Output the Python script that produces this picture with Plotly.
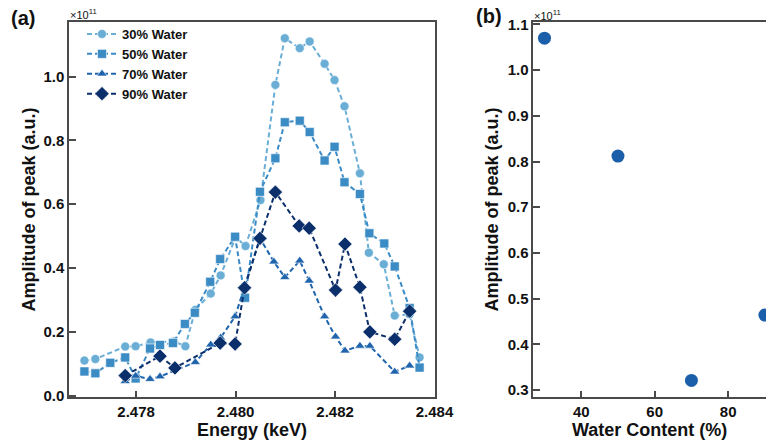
import plotly.graph_objects as go

# ---------------- data (amplitudes in units of 1e11) ----------------
series_names = ["30% Water", "50% Water", "70% Water", "90% Water"]

energy_30 = [2.47696, 2.47718, 2.47778, 2.47799, 2.47829, 2.47876, 2.47899, 2.47919,
             2.47950, 2.47970, 2.48000, 2.48020, 2.48050, 2.48080, 2.48099, 2.48129,
             2.48149, 2.48179, 2.48199, 2.48219, 2.48250, 2.48268, 2.48298, 2.48320,
             2.48350, 2.48370]
amp_30 = [0.110, 0.115, 0.154, 0.155, 0.167, 0.170, 0.155, 0.269,
          0.320, 0.377, 0.497, 0.469, 0.613, 0.974, 1.120, 1.089,
          1.110, 1.040, 0.989, 0.907, 0.697, 0.448, 0.412, 0.251,
          0.255, 0.120]

energy_50 = [2.47696, 2.47718, 2.47748, 2.47778, 2.47799, 2.47828, 2.47848, 2.47874,
             2.47898, 2.47918, 2.47949, 2.47969, 2.47999, 2.48019, 2.48049, 2.48080,
             2.48099, 2.48129, 2.48149, 2.48179, 2.48199, 2.48219, 2.48250, 2.48269,
             2.48299, 2.48320, 2.48350, 2.48370]
amp_50 = [0.076, 0.070, 0.103, 0.120, 0.054, 0.148, 0.159, 0.165,
          0.225, 0.260, 0.357, 0.428, 0.498, 0.307, 0.639, 0.744,
          0.857, 0.862, 0.826, 0.737, 0.780, 0.669, 0.632, 0.509,
          0.477, 0.405, 0.275, 0.088]

energy_70 = [2.47778, 2.47799, 2.47828, 2.47848, 2.47919, 2.47950, 2.47970, 2.47999,
             2.48049, 2.48077, 2.48099, 2.48129, 2.48148, 2.48179, 2.48201, 2.48220,
             2.48250, 2.48270, 2.48320, 2.48350]
amp_70 = [0.045, 0.062, 0.052, 0.060, 0.105, 0.160, 0.182, 0.248,
          0.493, 0.420, 0.371, 0.423, 0.360, 0.248, 0.185, 0.141,
          0.156, 0.156, 0.075, 0.094]

energy_90 = [2.47778, 2.47848, 2.47878, 2.47969, 2.47999, 2.48018, 2.48049, 2.48080,
             2.48128, 2.48148, 2.48201, 2.48220, 2.48250, 2.48270, 2.48320, 2.48350]
amp_90 = [0.063, 0.124, 0.087, 0.165, 0.162, 0.338, 0.493, 0.638,
          0.532, 0.525, 0.331, 0.475, 0.340, 0.200, 0.177, 0.265]

water_content = [30, 50, 70, 90]
peak_amp = [1.070, 0.812, 0.321, 0.464]

left_yticks = [0.0, 0.2, 0.4, 0.6, 0.8, 1.0]
left_xticks = [2.478, 2.480, 2.482, 2.484]
right_yticks = [0.3, 0.4, 0.5, 0.6, 0.7, 0.8, 0.9, 1.0, 1.1]
right_xticks = [40, 60, 80]

# ---------------- styling ----------------
FONT = "Arial, Liberation Sans, sans-serif"
colors = ["#6aaed6", "#3b8bc5", "#1f64ad", "#0b2f6a"]
symbols = ["circle", "square", "triangle-up", "diamond"]
sizes = [9, 9, 9, 11]
AX = "#4a4a4a"

W, H = 766, 446
def px_x(p): return p / W
def px_y(p): return 1 - p / H

fig = go.Figure()
data_sets = [(energy_30, amp_30), (energy_50, amp_50), (energy_70, amp_70), (energy_90, amp_90)]
for (ex, ay), name, c, s, sz in zip(data_sets, series_names, colors, symbols, sizes):
    fig.add_trace(go.Scatter(
        x=ex, y=ay, name=f"<b>{name}</b>", mode="lines+markers",
        line=dict(color=c, width=2, dash="5px,3px"),
        marker=dict(color=c, symbol=s, size=sz, line=dict(color="white", width=0.6)),
        xaxis="x", yaxis="y"))

fig.add_trace(go.Scatter(
    x=water_content, y=peak_amp, mode="markers", showlegend=False,
    marker=dict(color="#1b5ea9", size=13),
    xaxis="x2", yaxis="y2", cliponaxis=True))

axis_common = dict(showline=True, linecolor=AX, linewidth=1.5, ticks="inside",
                   ticklen=7, tickwidth=1.5, tickcolor=AX, showgrid=False, zeroline=False,
                   automargin=False,
                   tickfont=dict(family=FONT, size=15, color="#111"),
                   title_font=dict(family=FONT, size=18, color="#111"))

y_dom = [px_y(397.3), px_y(21.7)]
fig.update_layout(
    width=W, height=H, margin=dict(l=0, r=0, t=0, b=0, autoexpand=False),
    paper_bgcolor="white", plot_bgcolor="white",
    font=dict(family=FONT),
    xaxis=dict(domain=[px_x(69), px_x(435)], range=[2.47665, 2.48401],
               tickvals=left_xticks, ticktext=[f"<b>{v:.3f}</b>" for v in left_xticks],
               mirror=True, title=dict(text="<b>Energy (keV)</b>", standoff=3), **axis_common),
    yaxis=dict(domain=y_dom, range=[-0.005, 1.172],
               tickvals=left_yticks, ticktext=[f"<b>{v:.1f}</b>" for v in left_yticks],
               mirror=True, title=dict(text="<b>Amplitude of peak (a.u.)</b>", standoff=3), **axis_common),
    xaxis2=dict(domain=[px_x(533.3), 1.0], range=[26.95, 90.3], anchor="y2",
                tickvals=right_xticks, ticktext=[f"<b>{v}</b>" for v in right_xticks],
                mirror=True, title=dict(text="<b>Water Content (%)</b>", standoff=3), **axis_common),
    yaxis2=dict(domain=y_dom, range=[0.284, 1.106], anchor="x2",
                tickvals=right_yticks, ticktext=[f"<b>{v:.1f}</b>" for v in right_yticks],
                title=dict(text="<b>Amplitude of peak (a.u.)</b>", standoff=4), **axis_common),
    legend=dict(x=px_x(82), y=px_y(19), xanchor="left", yanchor="top",
                bgcolor="rgba(0,0,0,0)", font=dict(family=FONT, size=13, color="#111"),
                itemwidth=30, tracegroupgap=0),
)

annots = [
    dict(text="<b>(a)</b>", x=px_x(9), y=px_y(18), xanchor="left", yanchor="middle", size=20),
    dict(text="<b>(b)</b>", x=px_x(474), y=px_y(16), xanchor="left", yanchor="middle", size=20),
    dict(text="×10<sup>11</sup>", x=px_x(68), y=px_y(14), xanchor="left", yanchor="middle", size=11),
    dict(text="×10<sup>11</sup>", x=px_x(532), y=px_y(15), xanchor="left", yanchor="middle", size=11),
]
for a in annots:
    fig.add_annotation(text=a["text"], x=a["x"], y=a["y"], xref="paper", yref="paper",
                       xanchor=a["xanchor"], yanchor=a["yanchor"], showarrow=False,
                       font=dict(family=FONT, size=a["size"], color="#111"))

# remove the default 8px page margin so the figure fills the window exactly
fig.write_html("out.html", config={"displayModeBar": False},
               post_script="document.body.style.margin='0px';document.body.style.overflow='hidden';")
